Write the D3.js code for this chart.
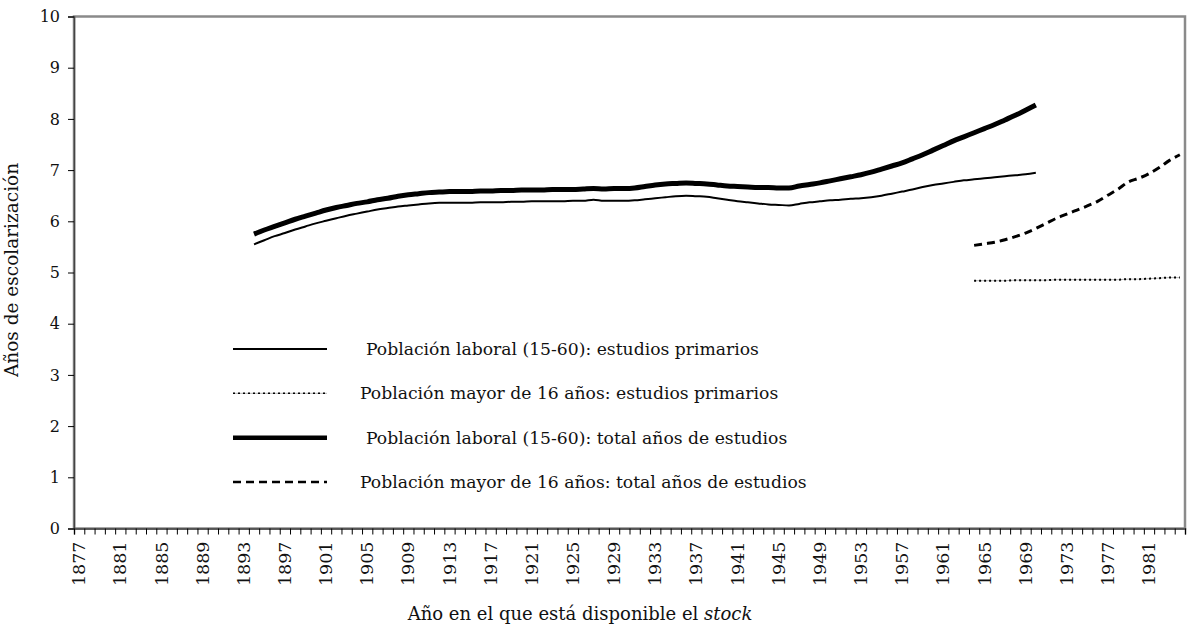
<!DOCTYPE html>
<html>
<head>
<meta charset="utf-8">
<script src="https://cdn.jsdelivr.net/npm/d3@7"></script>
<style>
  body { margin: 0; background: #fff; }
  svg { display: block; }
  text { font-family: "DejaVu Serif", "Liberation Serif", serif; fill: #111; }
</style>
</head>
<body>
<div id="chart"></div>
<script>
// Data
const firstYear = 1877;
const lastYear = 1984;
const years = d3.range(firstYear, lastYear + 1);
const labelYears = years.filter(y => (y - firstYear) % 4 === 0);
const yTicks = [0, 1, 2, 3, 4, 5, 6, 7, 8, 9, 10];

// Población laboral (15-60): estudios primarios, 1894-1970
const laboralPrimStart = 1894;
const laboralPrimarios = [
  5.55, 5.63, 5.71, 5.77, 5.84, 5.90, 5.96, 6.01, 6.06, 6.11,
  6.15, 6.19, 6.23, 6.26, 6.29, 6.31, 6.33, 6.35, 6.36, 6.36,
  6.36, 6.36, 6.37, 6.37, 6.37, 6.38, 6.38, 6.39, 6.39, 6.39,
  6.39, 6.40, 6.40, 6.42, 6.40, 6.40, 6.40, 6.41, 6.43, 6.45,
  6.47, 6.49, 6.50, 6.49, 6.48, 6.45, 6.42, 6.39, 6.37, 6.35,
  6.33, 6.32, 6.31, 6.34, 6.37, 6.39, 6.41, 6.42, 6.44, 6.45,
  6.47, 6.50, 6.54, 6.58, 6.62, 6.67, 6.71, 6.74, 6.77, 6.80,
  6.82, 6.84, 6.86, 6.88, 6.90, 6.92, 6.95
];

// Población laboral (15-60): total años de estudios, 1894-1970
const laboralTotalStart = 1894;
const laboralTotal = [
  5.75, 5.83, 5.90, 5.97, 6.04, 6.10, 6.16, 6.22, 6.27, 6.31,
  6.35, 6.38, 6.42, 6.45, 6.49, 6.52, 6.54, 6.56, 6.57, 6.58,
  6.58, 6.58, 6.59, 6.59, 6.60, 6.60, 6.61, 6.61, 6.61, 6.62,
  6.62, 6.62, 6.63, 6.64, 6.63, 6.64, 6.64, 6.65, 6.68, 6.71,
  6.73, 6.74, 6.75, 6.74, 6.73, 6.71, 6.69, 6.68, 6.67, 6.66,
  6.66, 6.65, 6.65, 6.69, 6.72, 6.75, 6.79, 6.83, 6.87, 6.91,
  6.96, 7.02, 7.08, 7.14, 7.22, 7.30, 7.39, 7.48, 7.57, 7.65,
  7.73, 7.81, 7.89, 7.98, 8.07, 8.17, 8.27
];

// Población mayor de 16 años: estudios primarios, 1964-1984
const mayorPrimStart = 1964;
const mayorPrimarios = [
  4.84, 4.84, 4.84, 4.84, 4.85, 4.85, 4.85, 4.85, 4.86, 4.86,
  4.86, 4.86, 4.86, 4.86, 4.86, 4.87, 4.87, 4.88, 4.89, 4.90,
  4.90
];

// Población mayor de 16 años: total años de estudios, 1964-1984
const mayorTotalStart = 1964;
const mayorTotal = [
  5.53, 5.56, 5.59, 5.64, 5.70, 5.77, 5.86, 5.96, 6.06, 6.14,
  6.22, 6.30, 6.39, 6.51, 6.63, 6.77, 6.84, 6.93, 7.05, 7.19,
  7.30
];

const seriesNames = [
  "Población laboral (15-60): estudios primarios",
  "Población mayor de 16 años: estudios primarios",
  "Población laboral (15-60): total años de estudios",
  "Población mayor de 16 años: total años de estudios"
];

const toPoints = (start, values) => values.map((v, i) => ({ year: start + i, value: v }));
const series = [
  { name: seriesNames[0], points: toPoints(laboralPrimStart, laboralPrimarios) },
  { name: seriesNames[1], points: toPoints(mayorPrimStart, mayorPrimarios) },
  { name: seriesNames[2], points: toPoints(laboralTotalStart, laboralTotal) },
  { name: seriesNames[3], points: toPoints(mayorTotalStart, mayorTotal) }
];

// Styles
const styles = {
  [seriesNames[0]]: { width: 2, legendWidth: 2, dash: null },
  [seriesNames[1]]: { width: 2, legendWidth: 1.5, dash: "2,3", under: true },
  [seriesNames[2]]: { width: 5, legendWidth: 4.5, dash: null },
  [seriesNames[3]]: { width: 3, legendWidth: 2.5, dash: "8,5" }
};

// Dimensions
const width = 1192;
const height = 630;
const margin = { top: 16.5, right: 7, bottom: 101.5, left: 74 };
const innerWidth = width - margin.left - margin.right;
const innerHeight = height - margin.top - margin.bottom;

const svg = d3.select("#chart")
  .append("svg")
    .attr("width", width)
    .attr("height", height)
  .append("g")
    .attr("transform", `translate(${margin.left}, ${margin.top})`);

const xScale = d3.scaleBand()
  .domain(years)
  .range([0, innerWidth]);
const xEdges = d3.scaleLinear()
  .domain([firstYear, lastYear + 1])
  .range([0, innerWidth]);
const yScale = d3.scaleLinear()
  .domain([0, 10])
  .range([innerHeight, 0]);
const xCenter = yr => xScale(yr) + xScale.bandwidth() / 2;

// Frame
svg
  .append("rect")
    .attr("width", innerWidth)
    .attr("height", innerHeight)
    .attr("fill", "none")
    .attr("stroke", "#8a8a8a")
    .attr("stroke-width", 2.5);

// Axes
const leftAxis = d3.axisLeft(yScale)
  .tickValues(yTicks)
  .tickSize(6)
  .tickPadding(8);
svg
  .append("g")
    .attr("class", "axis axis-y")
    .call(leftAxis)
    .call(g => g.select(".domain").attr("stroke", "#444").attr("stroke-width", 1.5))
    .call(g => g.selectAll("text").style("font-size", "16px"));

const tickAxis = d3.axisBottom(xEdges)
  .tickValues(d3.range(firstYear, lastYear + 2))
  .tickSize(6)
  .tickFormat("");
svg
  .append("g")
    .attr("class", "axis axis-x-ticks")
    .attr("transform", `translate(0, ${innerHeight})`)
    .call(tickAxis)
    .call(g => g.select(".domain").attr("stroke", "#444").attr("stroke-width", 1.5));

const bottomAxis = d3.axisBottom(xScale)
  .tickValues(labelYears)
  .tickSize(0);
svg
  .append("g")
    .attr("class", "axis axis-x")
    .attr("transform", `translate(0, ${innerHeight})`)
    .call(bottomAxis)
    .call(g => g.select(".domain").remove())
    .call(g => g.selectAll("text")
      .style("font-size", "17.5px")
      .attr("text-anchor", "end")
      .attr("dy", "0.35em")
      .attr("transform", "translate(0, 13) rotate(-90)")
      .attr("x", 0)
      .attr("y", 0));

// Axis titles
svg
  .append("text")
    .attr("transform", `translate(${-56}, ${270 - margin.top}) rotate(-90)`)
    .attr("text-anchor", "middle")
    .style("font-size", "18.5px")
    .text("Años de escolarización");

const xTitle = svg
  .append("text")
    .attr("x", 580 - margin.left)
    .attr("y", 620 - margin.top)
    .attr("text-anchor", "middle")
    .style("font-size", "18px");
xTitle.append("tspan").text("Año en el que está disponible el ");
xTitle.append("tspan").style("font-style", "italic").text("stock");

// Lines
const line = d3.line()
  .x(d => xCenter(d.year))
  .y(d => yScale(d.value))
  .curve(d3.curveMonotoneX);

const lines = svg
  .append("g")
    .attr("class", "lines")
  .selectAll(".serie")
  .data(series)
  .join("g")
    .attr("class", "serie");

lines.filter(d => styles[d.name].under)
  .append("path")
    .attr("d", d => line(d.points))
    .attr("fill", "none")
    .attr("stroke", "#b5b5b5")
    .attr("stroke-width", 1);
lines
  .append("path")
    .attr("d", d => line(d.points))
    .attr("fill", "none")
    .attr("stroke", "#000")
    .attr("stroke-width", d => styles[d.name].width)
    .attr("stroke-dasharray", d => styles[d.name].dash);

// Legend
const legendY = d3.scalePoint()
  .domain(seriesNames)
  .range([349 - margin.top, 482 - margin.top]);

const legend = svg
  .append("g")
    .attr("class", "legend")
  .selectAll(".legend-item")
  .data(seriesNames)
  .join("g")
    .attr("class", "legend-item")
    .attr("transform", d => `translate(0, ${legendY(d)})`);

legend.filter(d => styles[d].under)
  .append("line")
    .attr("x1", 233 - margin.left)
    .attr("x2", 327 - margin.left)
    .attr("stroke", "#b5b5b5")
    .attr("stroke-width", 1);
legend
  .append("line")
    .attr("x1", 233 - margin.left)
    .attr("x2", 327 - margin.left)
    .attr("stroke", "#000")
    .attr("stroke-width", d => styles[d].legendWidth)
    .attr("stroke-dasharray", d => styles[d].dash);
legend
  .append("text")
    .attr("x", (d, i) => (i % 2 === 0 ? 366 : 360) - margin.left)
    .attr("dy", "0.35em")
    .style("font-size", "17.2px")
    .text(d => d);
</script>
</body>
</html>
